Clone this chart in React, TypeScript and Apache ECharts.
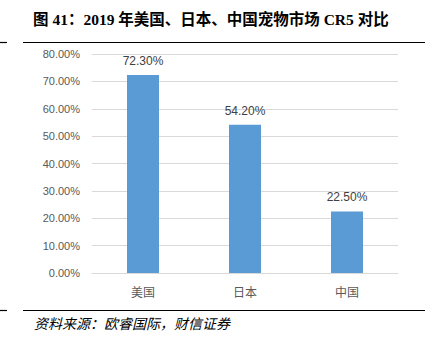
import React, { useEffect, useRef } from "react";
import * as echarts from "echarts";

const categories = ["美国", "日本", "中国"];
const values = [72.3, 54.2, 22.5];
const yTicks = { min: 0, max: 80, interval: 10 };
const titleText = "图 41：2019 年美国、日本、中国宠物市场 CR5 对比";
const sourceText = "资料来源：欧睿国际，财信证券";

export default function App() {
  const ref = useRef<HTMLDivElement>(null);
  useEffect(() => {
    document.body.style.margin = "0";
    const chart = echarts.init(ref.current!, null, { renderer: "svg" });
    chart.setOption({
      animation: false,
      backgroundColor: "#ffffff",
      grid: { left: 92, right: 40, top: 54, bottom: 80 },
      xAxis: {
        type: "category",
        data: categories,
        axisLine: { lineStyle: { color: "#D9D9D9", width: 1 } },
        axisTick: { show: false },
        axisLabel: { color: "#595959", fontSize: 12, margin: 12, fontFamily: "Noto Sans CJK SC" },
      },
      yAxis: {
        type: "value",
        min: yTicks.min,
        max: yTicks.max,
        interval: yTicks.interval,
        axisLine: { show: false },
        axisTick: { show: false },
        splitLine: { lineStyle: { color: "#D9D9D9", width: 1 } },
        axisLabel: {
          color: "#595959",
          fontSize: 11,
          margin: 12,
          fontFamily: "Liberation Sans",
          formatter: (v: number) => v.toFixed(2) + "%",
        },
      },
      series: [
        {
          type: "bar",
          data: values,
          barWidth: 32,
          itemStyle: { color: "#5B9BD5" },
          label: {
            show: true,
            position: "top",
            distance: 8,
            color: "#404040",
            fontSize: 12,
            fontFamily: "Liberation Sans",
            formatter: (p: any) => p.value.toFixed(2) + "%",
          },
        },
      ],
      graphic: [
        {
          type: "text",
          left: 33,
          top: 12,
          style: {
            text: titleText,
            font: "bold 15.5px 'Liberation Serif', 'Noto Sans CJK SC'",
            fill: "#000000",
          },
        },
        { type: "line", shape: { x1: 23, y1: 42.5, x2: 425, y2: 42.5 }, style: { stroke: "#000", lineWidth: 1.2 } },
        { type: "line", shape: { x1: 0, y1: 42.5, x2: 7, y2: 42.5 }, style: { stroke: "#000", lineWidth: 1.2 } },
        { type: "line", shape: { x1: 23, y1: 310.5, x2: 425, y2: 310.5 }, style: { stroke: "#000", lineWidth: 1.2 } },
        { type: "line", shape: { x1: 0, y1: 310.5, x2: 7, y2: 310.5 }, style: { stroke: "#000", lineWidth: 1.2 } },
        {
          type: "text",
          left: 34,
          top: 316,
          style: {
            text: sourceText,
            font: "italic 14px 'Noto Sans CJK SC'",
            fill: "#000000",
          },
        },
      ],
    });
    return () => chart.dispose();
  }, []);
  return <div ref={ref} style={{ width: 438, height: 353 }} />;
}
